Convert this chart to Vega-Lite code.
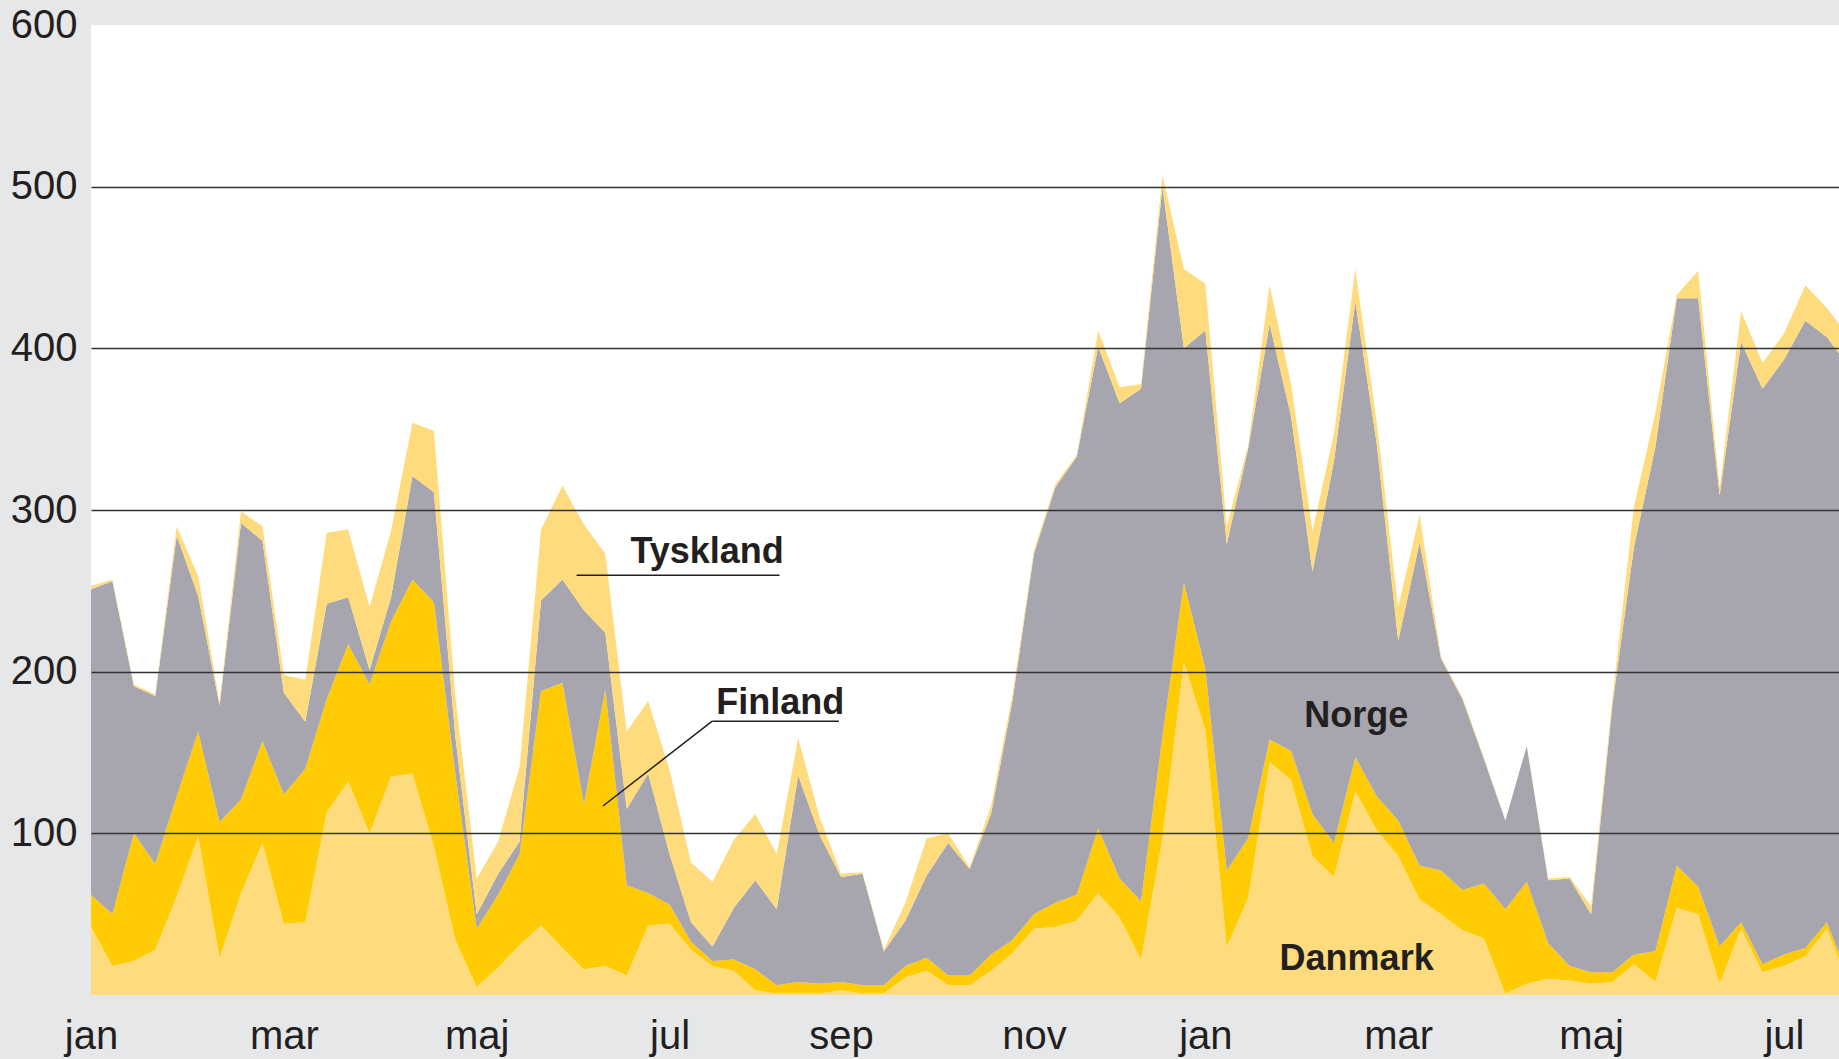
{
  "$schema": "https://vega.github.io/schema/vega-lite/v6.json",
  "width": 1748,
  "height": 970,
  "autosize": {"type": "none"},
  "padding": {"left": 91, "top": 25, "right": 0, "bottom": 64},
  "background": "#e6e7e9",
  "view": {"fill": "#ffffff", "stroke": null},
  "config": {"font": "Liberation Sans Narrow, Liberation Sans, Arial, sans-serif"},
  "datasets": {
    "trade": [
      {"w":0,"Danmark":42,"Finland":20,"Norge":189,"Tyskland":2},
      {"w":1,"Danmark":18,"Finland":32,"Norge":206,"Tyskland":1},
      {"w":2,"Danmark":21,"Finland":79,"Norge":91,"Tyskland":1},
      {"w":3,"Danmark":28,"Finland":53,"Norge":104,"Tyskland":1},
      {"w":4,"Danmark":61,"Finland":62,"Norge":161,"Tyskland":6},
      {"w":5,"Danmark":98,"Finland":65,"Norge":84,"Tyskland":12},
      {"w":6,"Danmark":23,"Finland":84,"Norge":72,"Tyskland":2},
      {"w":7,"Danmark":63,"Finland":58,"Norge":171,"Tyskland":7},
      {"w":8,"Danmark":94,"Finland":63,"Norge":124,"Tyskland":9},
      {"w":9,"Danmark":44,"Finland":80,"Norge":63,"Tyskland":11},
      {"w":10,"Danmark":45,"Finland":95,"Norge":29,"Tyskland":26},
      {"w":11,"Danmark":113,"Finland":70,"Norge":59,"Tyskland":44},
      {"w":12,"Danmark":132,"Finland":85,"Norge":29,"Tyskland":42},
      {"w":13,"Danmark":100,"Finland":92,"Norge":9,"Tyskland":39},
      {"w":14,"Danmark":135,"Finland":96,"Norge":15,"Tyskland":41},
      {"w":15,"Danmark":137,"Finland":120,"Norge":64,"Tyskland":33},
      {"w":16,"Danmark":92,"Finland":151,"Norge":68,"Tyskland":38},
      {"w":17,"Danmark":34,"Finland":103,"Norge":23,"Tyskland":25},
      {"w":18,"Danmark":5,"Finland":36,"Norge":9,"Tyskland":22},
      {"w":19,"Danmark":17,"Finland":45,"Norge":13,"Tyskland":20},
      {"w":20,"Danmark":31,"Finland":56,"Norge":8,"Tyskland":46},
      {"w":21,"Danmark":43,"Finland":145,"Norge":56,"Tyskland":44},
      {"w":22,"Danmark":29,"Finland":164,"Norge":64,"Tyskland":58},
      {"w":23,"Danmark":16,"Finland":102,"Norge":120,"Tyskland":53},
      {"w":24,"Danmark":18,"Finland":171,"Norge":35,"Tyskland":49},
      {"w":25,"Danmark":12,"Finland":56,"Norge":47,"Tyskland":48},
      {"w":26,"Danmark":43,"Finland":20,"Norge":74,"Tyskland":45},
      {"w":27,"Danmark":44,"Finland":12,"Norge":31,"Tyskland":52},
      {"w":28,"Danmark":28,"Finland":5,"Norge":12,"Tyskland":37},
      {"w":29,"Danmark":18,"Finland":3,"Norge":9,"Tyskland":40},
      {"w":30,"Danmark":15,"Finland":7,"Norge":32,"Tyskland":42},
      {"w":31,"Danmark":3,"Finland":13,"Norge":55,"Tyskland":41},
      {"w":32,"Danmark":1,"Finland":5,"Norge":47,"Tyskland":34},
      {"w":33,"Danmark":1,"Finland":7,"Norge":128,"Tyskland":23},
      {"w":34,"Danmark":1,"Finland":6,"Norge":92,"Tyskland":11},
      {"w":35,"Danmark":3,"Finland":5,"Norge":65,"Tyskland":2},
      {"w":36,"Danmark":1,"Finland":5,"Norge":69,"Tyskland":1},
      {"w":37,"Danmark":1,"Finland":5,"Norge":21,"Tyskland":1},
      {"w":38,"Danmark":11,"Finland":7,"Norge":28,"Tyskland":11},
      {"w":39,"Danmark":15,"Finland":8,"Norge":51,"Tyskland":23},
      {"w":40,"Danmark":6,"Finland":6,"Norge":82,"Tyskland":6},
      {"w":41,"Danmark":6,"Finland":6,"Norge":66,"Tyskland":1},
      {"w":42,"Danmark":15,"Finland":10,"Norge":87,"Tyskland":5},
      {"w":43,"Danmark":26,"Finland":8,"Norge":148,"Tyskland":4},
      {"w":44,"Danmark":41,"Finland":9,"Norge":223,"Tyskland":2},
      {"w":45,"Danmark":42,"Finland":15,"Norge":257,"Tyskland":2},
      {"w":46,"Danmark":46,"Finland":16,"Norge":271,"Tyskland":1},
      {"w":47,"Danmark":63,"Finland":40,"Norge":298,"Tyskland":10},
      {"w":48,"Danmark":48,"Finland":24,"Norge":294,"Tyskland":10},
      {"w":49,"Danmark":22,"Finland":36,"Norge":317,"Tyskland":3},
      {"w":50,"Danmark":97,"Finland":63,"Norge":340,"Tyskland":7},
      {"w":51,"Danmark":206,"Finland":49,"Norge":145,"Tyskland":49},
      {"w":52,"Danmark":164,"Finland":38,"Norge":209,"Tyskland":29},
      {"w":53,"Danmark":30,"Finland":47,"Norge":202,"Tyskland":11},
      {"w":54,"Danmark":60,"Finland":37,"Norge":241,"Tyskland":2},
      {"w":55,"Danmark":144,"Finland":14,"Norge":257,"Tyskland":24},
      {"w":56,"Danmark":133,"Finland":18,"Norge":207,"Tyskland":20},
      {"w":57,"Danmark":86,"Finland":26,"Norge":150,"Tyskland":25},
      {"w":58,"Danmark":73,"Finland":21,"Norge":236,"Tyskland":17},
      {"w":59,"Danmark":126,"Finland":21,"Norge":282,"Tyskland":20},
      {"w":60,"Danmark":102,"Finland":21,"Norge":218,"Tyskland":13},
      {"w":61,"Danmark":86,"Finland":22,"Norge":111,"Tyskland":21},
      {"w":62,"Danmark":59,"Finland":21,"Norge":200,"Tyskland":17},
      {"w":63,"Danmark":50,"Finland":27,"Norge":131,"Tyskland":1},
      {"w":64,"Danmark":40,"Finland":25,"Norge":118,"Tyskland":1},
      {"w":65,"Danmark":35,"Finland":34,"Norge":77,"Tyskland":1},
      {"w":66,"Danmark":1,"Finland":52,"Norge":55,"Tyskland":0},
      {"w":67,"Danmark":7,"Finland":63,"Norge":84,"Tyskland":0},
      {"w":68,"Danmark":10,"Finland":22,"Norge":39,"Tyskland":1},
      {"w":69,"Danmark":9,"Finland":9,"Norge":54,"Tyskland":1},
      {"w":70,"Danmark":7,"Finland":7,"Norge":36,"Tyskland":5},
      {"w":71,"Danmark":8,"Finland":6,"Norge":166,"Tyskland":4},
      {"w":72,"Danmark":19,"Finland":6,"Norge":252,"Tyskland":25},
      {"w":73,"Danmark":8,"Finland":19,"Norge":312,"Tyskland":21},
      {"w":74,"Danmark":54,"Finland":26,"Norge":351,"Tyskland":2},
      {"w":75,"Danmark":50,"Finland":17,"Norge":364,"Tyskland":17},
      {"w":76,"Danmark":7,"Finland":23,"Norge":279,"Tyskland":5},
      {"w":77,"Danmark":41,"Finland":4,"Norge":359,"Tyskland":19},
      {"w":78,"Danmark":14,"Finland":5,"Norge":356,"Tyskland":16},
      {"w":79,"Danmark":18,"Finland":7,"Norge":368,"Tyskland":16},
      {"w":80,"Danmark":24,"Finland":5,"Norge":388,"Tyskland":22},
      {"w":81,"Danmark":41,"Finland":4,"Norge":362,"Tyskland":18},
      {"w":82,"Danmark":8,"Finland":4,"Norge":377,"Tyskland":19}
    ],
    "labels": [
      {"w": 28.75, "value": 267, "text": "Tyskland"},
      {"w": 32.16, "value": 173.8, "text": "Finland"},
      {"w": 59.04, "value": 165.9, "text": "Norge"},
      {"w": 59.06, "value": 15.5, "text": "Danmark"}
    ],
    "leaders": [
      {"w": 22.66, "value": 259.7, "w2": 32.13, "value2": 259.7},
      {"w": 28.99, "value": 169.4, "w2": 34.9, "value2": 169.4},
      {"w": 23.89, "value": 116.9, "w2": 28.99, "value2": 169.4}
    ]
  },
  "layer": [
    {
      "data": {"name": "trade"},
      "transform": [{"fold": ["Danmark", "Finland", "Norge", "Tyskland"], "as": ["land", "value"]}],
      "mark": {"type": "area", "clip": true, "interpolate": "linear"},
      "encoding": {
        "x": {
          "field": "w", "type": "quantitative",
          "scale": {"domain": [0, 81.57], "nice": false, "zero": false},
          "axis": {
            "values": [0, 9, 18, 27, 35, 44, 52, 61, 70, 79],
            "labelExpr": "['jan','mar','maj','jul','sep','nov','jan','mar','maj','jul'][indexof([0,9,18,27,35,44,52,61,70,79], datum.value)]",
            "title": null, "domain": false, "ticks": false, "tickSize": 0, "grid": false,
            "labelPadding": 53, "labelBaseline": "alphabetic", "labelFontSize": 40,
            "labelFlush": false, "labelOverlap": false, "labelColor": "#231f20",
            "labelFont": "Liberation Sans Narrow, Liberation Sans, Arial, sans-serif"
          }
        },
        "y": {
          "field": "value", "type": "quantitative", "stack": "zero",
          "scale": {"domain": [0, 600], "nice": false},
          "axis": {
            "values": [100, 200, 300, 400, 500, 600],
            "title": null, "domain": false, "ticks": false, "tickSize": 0,
            "labelPadding": 14, "labelFontSize": 40, "labelColor": "#231f20",
            "labelFont": "Liberation Sans Narrow, Liberation Sans, Arial, sans-serif",
            "labelFlush": false, "labelOverlap": false,
            "grid": true, "gridColor": "#333333", "gridWidth": 1.5,
            "gridOpacity": {"condition": {"test": "datum.value >= 600", "value": 0}, "value": 1},
            "zindex": 1
          }
        },
        "color": {
          "field": "land", "type": "nominal",
          "scale": {"domain": ["Danmark", "Finland", "Norge", "Tyskland"], "range": ["#fedc7e", "#ffcb05", "#a7a6ae", "#fedc7e"]},
          "legend": null
        },
        "order": {"field": "land", "type": "nominal", "sort": "ascending"}
      }
    },
    {
      "data": {"name": "leaders"},
      "mark": {"type": "rule", "color": "#231f20", "strokeWidth": 1.5},
      "encoding": {
        "x": {"field": "w", "type": "quantitative"},
        "x2": {"field": "w2"},
        "y": {"field": "value", "type": "quantitative"},
        "y2": {"field": "value2"}
      }
    },
    {
      "data": {"name": "labels"},
      "mark": {"type": "text", "align": "center", "baseline": "alphabetic", "fontSize": 36, "fontWeight": "bold", "color": "#231f20", "font": "Liberation Sans Narrow, Liberation Sans, Arial, sans-serif"},
      "encoding": {
        "x": {"field": "w", "type": "quantitative"},
        "y": {"field": "value", "type": "quantitative"},
        "text": {"field": "text"}
      }
    }
  ]
}
